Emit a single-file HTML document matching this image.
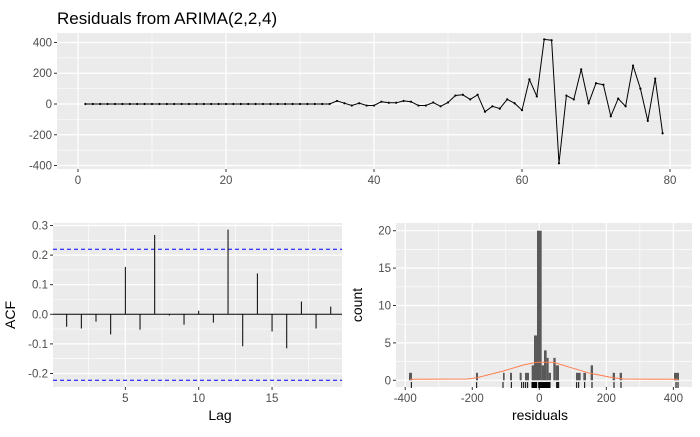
<!DOCTYPE html>
<html><head><meta charset="utf-8"><style>
html,body{margin:0;padding:0;background:#fff;}
svg text{font-family:"Liberation Sans",Arial,sans-serif;}
</style></head><body>
<svg id="s" width="700" height="432" viewBox="0 0 700 432" xmlns="http://www.w3.org/2000/svg">
<rect width="700" height="432" fill="#fff"/>
<text x="57" y="24" font-size="17" fill="#000">Residuals from ARIMA(2,2,4)</text>
<g id="top"></g><g id="acf"></g><g id="hist"></g>
<text x="15" y="315" font-size="14" transform="rotate(-90 15 315)" text-anchor="middle">ACF</text>
<text x="220" y="420" font-size="14" text-anchor="middle">Lag</text>
<text x="362" y="305" font-size="14" transform="rotate(-90 362 305)" text-anchor="middle">count</text>
<text x="540" y="420" font-size="14" text-anchor="middle">residuals</text>
</svg>
<script>
const NS="http://www.w3.org/2000/svg";
function el(p,t,a,txt){const e=document.createElementNS(NS,t);for(const k in a)e.setAttribute(k,a[k]);if(txt!==undefined)e.textContent=txt;p.appendChild(e);return e;}
// ---- top panel
const T=document.getElementById('top');
const L=57,R=691,TT=33,TB=169;
el(T,'rect',{x:L,y:TT,width:R-L,height:TB-TT,fill:'#ebebeb'});
const tx=v=>78+v*7.4, ty=v=>104-v*0.1538;
[-300,-100,100,300].forEach(v=>el(T,'line',{x1:L,x2:R,y1:ty(v),y2:ty(v),stroke:'#fff','stroke-width':0.6}));
[10,30,50,70].forEach(v=>el(T,'line',{x1:tx(v),x2:tx(v),y1:TT,y2:TB,stroke:'#fff','stroke-width':0.6}));
[-400,-200,0,200,400].forEach(v=>{el(T,'line',{x1:L,x2:R,y1:ty(v),y2:ty(v),stroke:'#fff','stroke-width':1.2});
 el(T,'line',{x1:L-3,x2:L,y1:ty(v),y2:ty(v),stroke:'#333'});
 el(T,'text',{x:L-5,y:ty(v)+4,'font-size':11.5,fill:'#4d4d4d','text-anchor':'end'},v);});
[0,20,40,60,80].forEach(v=>{el(T,'line',{x1:tx(v),x2:tx(v),y1:TT,y2:TB,stroke:'#fff','stroke-width':1.2});
 el(T,'line',{x1:tx(v),x2:tx(v),y1:TB,y2:TB+3,stroke:'#333'});
 el(T,'text',{x:tx(v),y:TB+15,'font-size':11.5,fill:'#4d4d4d','text-anchor':'middle'},v);});
const late=[20,5,-10,5,-10,-10,15,8,8,20,15,-10,-10,10,-15,10,55,60,30,60,-50,-15,-30,30,5,-40,160,50,420,415,-385,55,30,225,5,135,125,-80,35,-15,250,100,-110,165,-190];
const data=[];for(let i=1;i<=34;i++)data.push(0);data.push(...late);
let pts=data.map((v,i)=>tx(i+1).toFixed(1)+','+ty(v).toFixed(1)).join(' ');
el(T,'polyline',{points:pts,fill:'none',stroke:'#000','stroke-width':1});
data.forEach((v,i)=>el(T,'circle',{cx:tx(i+1),cy:ty(v),r:1.1,fill:'#000'}));
// ---- ACF
const A=document.getElementById('acf');
const AL=53,AR=342,AT=223,AB=387;
el(A,'rect',{x:AL,y:AT,width:AR-AL,height:AB-AT,fill:'#ebebeb'});
const ax=v=>52+v*14.67, ay=v=>314.3-v*296;
[-0.15,-0.05,0.05,0.15,0.25].forEach(v=>el(A,'line',{x1:AL,x2:AR,y1:ay(v),y2:ay(v),stroke:'#fff','stroke-width':0.6}));
[2.5,7.5,12.5,17.5].forEach(v=>el(A,'line',{x1:ax(v),x2:ax(v),y1:AT,y2:AB,stroke:'#fff','stroke-width':0.6}));
[-0.2,-0.1,0,0.1,0.2,0.3].forEach(v=>{el(A,'line',{x1:AL,x2:AR,y1:ay(v),y2:ay(v),stroke:'#fff','stroke-width':1.2});
 el(A,'line',{x1:AL-3,x2:AL,y1:ay(v),y2:ay(v),stroke:'#333'});
 el(A,'text',{x:AL-5,y:ay(v)+4,'font-size':11.5,fill:'#4d4d4d','text-anchor':'end'},v.toFixed(1));});
[5,10,15].forEach(v=>{el(A,'line',{x1:ax(v),x2:ax(v),y1:AT,y2:AB,stroke:'#fff','stroke-width':1.2});
 el(A,'line',{x1:ax(v),x2:ax(v),y1:AB,y2:AB+3,stroke:'#333'});
 el(A,'text',{x:ax(v),y:AB+15,'font-size':11.5,fill:'#4d4d4d','text-anchor':'middle'},v);});
el(A,'line',{x1:AL,x2:AR,y1:ay(0),y2:ay(0),stroke:'#000','stroke-width':1});
el(A,'line',{x1:AL,x2:AR,y1:249.3,y2:249.3,stroke:'#0000ff','stroke-dasharray':'4,3'});
el(A,'line',{x1:AL,x2:AR,y1:380.3,y2:380.3,stroke:'#0000ff','stroke-dasharray':'4,3'});
const acf=[-0.042,-0.048,-0.025,-0.068,0.16,-0.052,0.268,-0.004,-0.035,0.012,-0.028,0.286,-0.108,0.138,-0.058,-0.115,0.043,-0.048,0.026];
acf.forEach((v,i)=>el(A,'line',{x1:ax(i+1),x2:ax(i+1),y1:ay(0),y2:ay(v),stroke:'#000','stroke-width':1}));
// ---- histogram
const H=document.getElementById('hist');
const HL=396,HR=692,HT=223,HB=387;
el(H,'rect',{x:HL,y:HT,width:HR-HL,height:HB-HT,fill:'#ebebeb'});
const hx=v=>539.3+v*0.3352, hy=v=>380.3-v*7.48;
[2.5,7.5,12.5,17.5].forEach(v=>el(H,'line',{x1:HL,x2:HR,y1:hy(v),y2:hy(v),stroke:'#fff','stroke-width':0.6}));
[-300,-100,100,300].forEach(v=>el(H,'line',{x1:hx(v),x2:hx(v),y1:HT,y2:HB,stroke:'#fff','stroke-width':0.6}));
[0,5,10,15,20].forEach(v=>{el(H,'line',{x1:HL,x2:HR,y1:hy(v),y2:hy(v),stroke:'#fff','stroke-width':1.2});
 el(H,'line',{x1:HL-3,x2:HL,y1:hy(v),y2:hy(v),stroke:'#333'});
 el(H,'text',{x:HL-5,y:hy(v)+4,'font-size':11.5,fill:'#4d4d4d','text-anchor':'end'},v);});
[-400,-200,0,200,400].forEach(v=>{el(H,'line',{x1:hx(v),x2:hx(v),y1:HT,y2:HB,stroke:'#fff','stroke-width':1.2});
 el(H,'line',{x1:hx(v),x2:hx(v),y1:HB,y2:HB+3,stroke:'#333'});
 el(H,'text',{x:hx(v),y:HB+15,'font-size':11.5,fill:'#4d4d4d','text-anchor':'middle'},v);});
const bars=[[177,186,1],[378,384,1],[459,464,1],[480,486,1],[509,515,1],[525,537,1],[545,552,2],[552,561,6],[561,575,20],[575,582,2],[582,590,4],[590,596,3],[596,603,1],[610,617,3],[617,627,2],[678,692,1],[700,708,1],[722,729,2],[788,795,1],[809,816,1],[972,987,1]];
bars.forEach(b=>{const x1=350+b[0]/3,x2=350+b[1]/3;el(H,'rect',{x:x1,y:hy(b[2]),width:x2-x1,height:b[2]*7.48,fill:'#595959'});});
const curve=[[180,538],[352,537],[380,533],[460,513],[520,495],[560,487],[610,487],[660,502],[720,520],[790,533],[820,537],[985,538]];
el(H,'polyline',{points:curve.map(p=>(350+p[0]/3).toFixed(1)+','+(200+p[1]/3).toFixed(1)).join(' '),fill:'none',stroke:'#ff7f50','stroke-width':1});
const rug=[184,380,459,484,515,521,527,533,546,548,550,552,554,556,558,560,566,568,570,572,574,576,578,580,582,584,586,588,590,592,594,596,598,600,620,623,626,680,686,704,726,792,813,978,984];
rug.forEach(z=>{const x=350+z/3;el(H,'line',{x1:x,x2:x,y1:382,y2:388,stroke:'#000','stroke-width':1});});
</script>
</body></html>
